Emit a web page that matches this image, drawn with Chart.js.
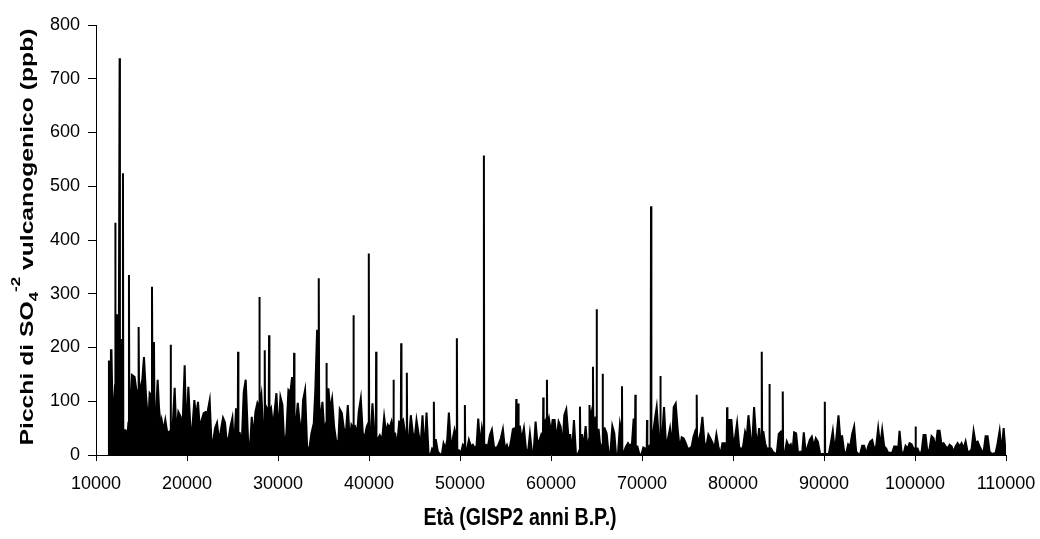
<!DOCTYPE html>
<html>
<head>
<meta charset="utf-8">
<script src="https://cdn.jsdelivr.net/npm/chart.js@4"></script>
<style>
  html, body { margin: 0; background: #fff; }
</style>
</head>
<body>
<canvas id="chart" width="1040" height="539"></canvas>
<script>
// Volcanic SO4 peaks, GISP2 – [age (yr B.P.), ppb]
const picchiA = [
  [11400,0],[11422,174],[11560,174],[11640,195],[11700,195],[11790,106],[12010,106],[12090,130],[12119,432],[12150,260],
  [12520,260],[12596,738],[12630,214],[12900,214],[12962,524],[13000,46],[13219,46],[13280,12],[13402,22],[13560,60],
  [13622,335],[13660,93],[13805,93],[13952,149],[14245,145],[14429,121],[14640,120],[14685,238],[14730,120],[14869,125],
  [15088,140],[15272,182],[15492,112],[15748,56],[15895,115],[16110,110],[16152,313],[16200,150],[16330,150],[16372,210],
  [16420,80],[16555,60],[16775,140],[16921,89],[17105,52],[17215,65],[17435,46],[17618,65],[17838,41],[18170,45],
  [18204,205],[18240,45],[18388,41],[18645,125],[18828,37],[19048,80],[19304,71],[19488,41],[19744,167],[19928,34],
  [20148,127],[20368,52],[20587,50],[20807,102],[20991,71],[21211,99],[21394,52],[21614,65],[21834,78],[22054,80],
  [22237,78],[22494,102],[22677,28],[22860,24],[23080,50],[23300,60],[23483,32],[23667,41],[23960,69],[24180,60],
  [24327,32],[24547,28],[24767,52],[24987,69],[25170,9],[25390,87],[25580,40],[25610,192],[25650,41],[25793,41],
  [26013,19],[26233,117],[26453,140],[26710,28],[26893,4],[27113,71],[27333,34],[27516,80],[27736,97],[27920,90],
  [27956,294],[27990,90],[28176,112],[28359,50],[28510,50],[28543,195],[28580,70],[28726,89],[28980,80],[29019,223],
  [29060,80],[29239,87],[29459,52],[29826,115],[30046,41],[30266,108],[30486,93],[30706,13],[30926,41],[31146,121],
  [31366,117],[31549,145],[31730,60],[31769,190],[31810,56],[31952,56],[32172,97]
];

const picchiB = [
  [32316,71],[32573,37],[32756,102],[32976,121],[33196,16],[33416,9],[33673,40],[33930,59],[34100,120],[34296,233],
  [34440,150],[34479,329],[34520,100],[34663,62],[34883,99],[35103,40],[35290,60],[35323,171],[35360,80],[35543,124],
  [35726,84],[35946,105],[36166,53],[36422,22],[36642,28],[36789,85],[37009,78],[37229,50],[37449,37],[37669,93],
  [37889,25],[38072,56],[38260,50],[38292,260],[38330,50],[38475,53],[38695,40],[38879,81],[39099,105],[39319,40],
  [39539,34],[39758,53],[39940,60],[39978,375],[40020,50],[40198,40],[40382,96],[40602,31],[40750,40],[40785,192],
  [40820,31],[41005,31],[41188,37],[41445,28],[41665,71],[41885,40],[42068,56],[42251,50],[42471,62],[42650,40],
  [42691,140],[42730,40],[42875,40],[43095,16],[43314,62],[43500,60],[43534,208],[43570,60],[43754,65],[43974,40],
  [44120,40],[44158,153],[44200,28],[44378,28],[44598,74],[44818,40],[45001,28],[45221,65],[45441,40],[45661,16],
  [45881,74],[46101,3],[46321,79],[46541,3],[46761,0],[46944,12],[47090,10],[47127,99],[47170,28],[47347,28],
  [47567,6],[47787,2],[48007,0],[48190,22],[48410,12],[48594,28],[48777,79],[48997,16],[49180,28],[49400,47],
  [49620,30],[49657,217],[49700,9],[49877,9],[50097,3],[50317,19],[50500,15],[50537,93],[50580,9],[50756,9],
  [50976,28],[51196,16],[51416,19],[51636,12],[51820,17],[52003,68],[52223,16],[52406,50],[52590,30],[52626,557],
  [52660,19],[52846,19],[53066,16],[53286,37],[53506,47],[53726,16],[53946,12],[54166,17]
];

const picchiC = [
  [54494,31],[54714,48],[54934,12],[55154,19],[55374,6],[55594,25],[55814,48],[55997,50],[56150,50],[56180,104],
  [56220,55],[56370,55],[56400,96],[56440,53],[56584,53],[56767,28],[57024,50],[57243,12],[57463,3],[57683,40],
  [57903,6],[58087,3],[58307,62],[58527,19],[58747,28],[58967,40],[59120,40],[59150,107],[59190,50],[59370,62],
  [59520,50],[59553,140],[59590,55],[59773,68],[59993,40],[60176,65],[60396,65],[60616,28],[60836,62],[61056,53],
  [61276,16],[61459,74],[61679,85],[61899,37],[62119,37],[62303,3],[62523,65],[62742,2],[62962,2],[63150,10],
  [63182,90],[63220,37],[63402,37],[63586,16],[63806,54],[64026,6],[64180,30],[64209,93],[64250,50],[64429,78],
  [64580,60],[64612,164],[64650,60],[64832,68],[64980,60],[65015,271],[65050,47],[65235,47],[65455,9],[65640,20],
  [65675,151],[65710,50],[65895,50],[66115,40],[66335,2],[66518,2],[66738,54],[66958,40],[67141,2],[67361,2],
  [67581,58],[67770,40],[67801,128],[67840,6],[68021,6],[68241,16],[68461,22],[68681,16],[68901,22],[69084,68],
  [69230,30],[69268,112],[69310,16],[69488,16],[69708,2],[69928,0],[70148,14],[70368,12],[70520,12],[70551,65],
  [70590,16],[70771,16],[70950,20],[70991,463],[71030,40],[71211,40],[71431,68],[71614,89],[71834,34],[71980,34],
  [72017,147],[72060,40],[72237,40],[72421,89],[72641,16],[72861,31],[73081,50],[73301,16],[73484,89],[73704,96],
  [73924,47],[74144,12],[74364,33],[74584,31],[74804,22],[75024,12],[75243,12],[75463,16],[75647,33],[75830,43],
  [75980,30],[76013,112],[76050,28],[76233,28],[76453,43],[76637,71],[76857,23],[77076,16],[77296,38],[77516,31],
  [77736,23],[77956,12],[78176,38],[78396,16],[78616,0],[78836,22],[79093,22],[79310,20],[79349,89],[79390,40],
  [79606,65],[79826,65],[80046,16],[80229,33],[80449,60],[80669,16],[80889,9],[81108,16],[81328,43],[81511,33],
  [81695,74]
];

const picchiD = [
  [81840,50],[81987,16],[82133,28],[82317,89],[82500,42],[82683,16],[82867,50],[82977,28],[83130,28],[83160,192],
  [83200,43],[83343,43],[83527,22],[83710,12],[83970,12],[84003,132],[84040,12],[84186,12],[84370,6],[84626,3],
  [84810,2],[85030,39],[85250,43],[85430,30],[85469,118],[85510,3],[85689,3],[85909,25],[86129,16],[86349,20],
  [86533,4],[86716,42],[86936,40],[87156,2],[87376,6],[87596,2],[87779,42],[87999,2],[88219,16],[88439,28],
  [88659,34],[88879,16],[89099,31],[89319,25],[89575,2],[89795,2],[90050,2],[90088,99],[90130,2],[90308,2],
  [90528,2],[90748,22],[90968,45],[91188,6],[91372,34],[91592,74],[91775,34],[91995,35],[92215,6],[92435,3],
  [92655,20],[92875,16],[93095,39],[93315,53],[93535,6],[93755,2],[93975,2],[94195,17],[94415,17],[94634,2],
  [94854,16],[95074,25],[95294,28],[95514,12],[95734,16],[95954,50],[96174,16],[96394,47],[96614,16],[96834,12],
  [97054,4],[97274,4],[97494,4],[97714,16],[97934,16],[98154,12],[98300,45],[98520,6],[98740,2],[98960,17],
  [99180,12],[99400,22],[99620,20],[99840,12],[100020,12],[100060,53],[100100,12],[100280,12],[100500,2],[100720,6],
  [100940,37],[101160,37],[101380,3],[101600,12],[101820,35],[102040,31],[102260,12],[102480,45],[102700,45],[102920,19],
  [103140,22],[103360,16],[103580,12],[103800,19],[104020,16],[104240,6],[104460,16],[104680,22],[104900,16],[105120,22],
  [105340,12],[105560,25],[105780,6],[106000,6],[106220,11],[106440,45],[106660,22],[106880,25],[107100,16],[107320,8],
  [107540,6],[107760,35],[107980,35],[108200,6],[108420,2],[108640,3],[108860,4],[109080,22],[109300,45],[109520,6],
  [109740,50],[109960,4],[110000,6]
];

const xTicks = [10000, 20000, 30000, 40000, 50000, 60000, 70000, 80000, 90000, 100000, 110000];
const yTicks = [0, 100, 200, 300, 400, 500, 600, 700, 800];
const xTitle = 'Età (GISP2 anni B.P.)';
// y title pieces: text, kind (normal / subscript / superscript)
const yTitleParts = [['Picchi di SO', 'n'], ['4', 'sub'], ['-2', 'sup'], [' vulcanogenico (ppb)', 'n']];

const FONT = "'Liberation Sans', Arial, sans-serif";

const picchi = [].concat(picchiA, picchiB, picchiC, picchiD).map(p => ({ x: p[0], y: p[1] }));

// draws both axis titles (the y one needs sub/superscripts)
const axisTitles = {
  id: 'axisTitles',
  afterDraw(chart) {
    const ctx = chart.ctx;

    ctx.save();
    ctx.fillStyle = '#000';
    ctx.font = `bold 19px ${FONT}`;
    ctx.textAlign = 'center';
    ctx.textBaseline = 'middle';
    ctx.translate(chart.width / 2, 518);
    ctx.scale(1.03, 1.25);
    ctx.fillText(xTitle, 0, 0);
    ctx.restore();

    const fontOf = k => k === 'n' ? `bold 19px ${FONT}` : `bold 13px ${FONT}`;
    const shift = { n: 4.5, sub: 9, sup: -8.5 };
    ctx.save();
    ctx.fillStyle = '#000';
    ctx.textAlign = 'left';
    ctx.textBaseline = 'alphabetic';
    let total = 0;
    yTitleParts.forEach(([t, k]) => { ctx.font = fontOf(k); total += ctx.measureText(t).width; });
    ctx.translate(28.5, 237);
    ctx.rotate(-Math.PI / 2);
    ctx.scale(1.3, 1);
    let x = -total / 2;
    yTitleParts.forEach(([t, k]) => {
      ctx.font = fontOf(k);
      ctx.fillText(t, x, shift[k]);
      x += ctx.measureText(t).width;
    });
    ctx.restore();
  }
};

new Chart(document.getElementById('chart'), {
  type: 'line',
  data: {
    datasets: [{
      data: picchi,
      borderColor: '#000',
      backgroundColor: '#000',
      borderWidth: 2,
      fill: 'origin',
      pointRadius: 0,
      tension: 0
    }]
  },
  options: {
    responsive: false,
    animation: false,
    devicePixelRatio: 1,
    parsing: false,
    layout: { padding: { left: 36, right: 34, top: 25, bottom: 0 } },
    plugins: { legend: { display: false }, tooltip: { enabled: false } },
    scales: {
      x: {
        type: 'linear',
        min: xTicks[0],
        max: xTicks[xTicks.length - 1],
        afterBuildTicks: s => { s.ticks = xTicks.map(v => ({ value: v })); },
        afterFit: s => { s.height = 84; s.paddingLeft = 0; s.paddingRight = 0; },
        ticks: {
          color: '#000',
          font: { family: FONT, size: 18 },
          padding: 12,
          maxRotation: 0,
          autoSkip: false,
          callback: v => String(v)
        },
        grid: { drawOnChartArea: false, drawTicks: true, tickLength: 6, tickColor: '#000' },
        border: { display: true, color: '#000', width: 1 }
      },
      y: {
        min: yTicks[0],
        max: yTicks[yTicks.length - 1],
        afterBuildTicks: s => { s.ticks = yTicks.map(v => ({ value: v })); },
        afterFit: s => { s.width = 60; },
        ticks: {
          color: '#000',
          font: { family: FONT, size: 18 },
          padding: 8,
          callback: v => String(v)
        },
        grid: { drawOnChartArea: false, drawTicks: true, tickLength: 8, tickColor: '#000' },
        border: { display: true, color: '#000', width: 1 }
      }
    }
  },
  plugins: [axisTitles]
});
</script>
</body>
</html>
